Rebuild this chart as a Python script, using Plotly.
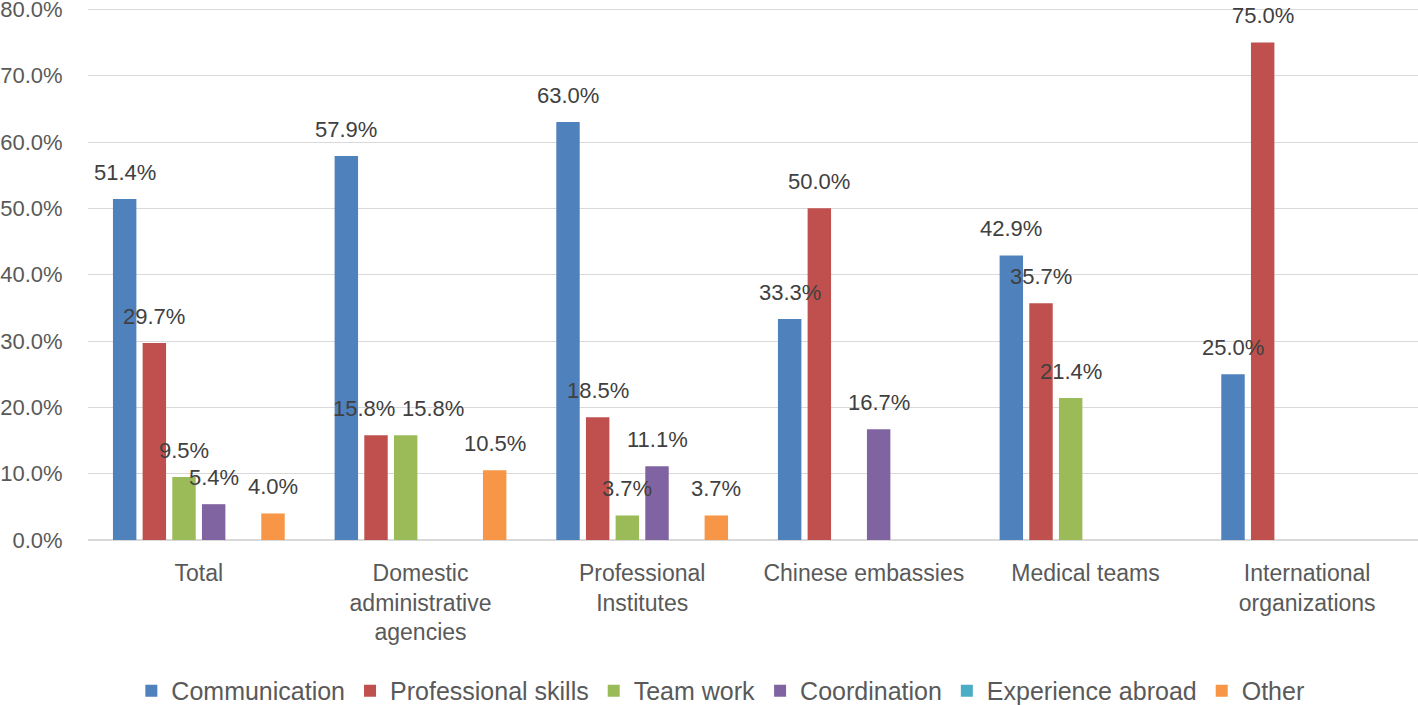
import plotly.graph_objects as go

categories = ["Total", "Domestic<br>administrative<br>agencies", "Professional<br>Institutes",
              "Chinese embassies", "Medical teams", "International<br>organizations"]
series_names = ["Communication", "Professional skills", "Team work", "Coordination",
                "Experience abroad", "Other"]
communication = [51.4, 57.9, 63.0, 33.3, 42.9, 25.0]
professional_skills = [29.7, 15.8, 18.5, 50.0, 35.7, 75.0]
team_work = [9.5, 15.8, 3.7, 0.0, 21.4, 0.0]
coordination = [5.4, 0.0, 11.1, 16.7, 0.0, 0.0]
experience_abroad = [0.0, 0.0, 0.0, 0.0, 0.0, 0.0]
other = [4.0, 10.5, 3.7, 0.0, 0.0, 0.0]
colors = ["#4F81BD", "#C0504D", "#9BBB59", "#8064A2", "#4BACC6", "#F79646"]
y_ticks = [0, 10, 20, 30, 40, 50, 60, 70, 80]

all_series = [communication, professional_skills, team_work, coordination, experience_abroad, other]

# label nudges (series index, category index) -> horizontal pixel shift, as in the original
label_nudge = {(1, 1): -12, (2, 1): 27}

FONT = "Liberation Sans"
bargap = 0.197
bargroupgap = 0.21
n = len(all_series)
slot = (1 - bargap) / n

fig = go.Figure()
annotations = []
for j, (name, vals, col) in enumerate(zip(series_names, all_series, colors)):
    fig.add_trace(go.Bar(x=list(range(len(categories))), y=[v / 100 for v in vals], name=name,
                         marker=dict(color=col, line=dict(width=0))))
    for i, v in enumerate(vals):
        if v > 0:
            annotations.append(dict(x=i + (j - (n - 1) / 2) * slot, y=v / 100, xref="x", yref="y",
                                    text=f"{v:.1f}%", showarrow=False, yanchor="bottom",
                                    yshift=12, xshift=label_nudge.get((j, i), 0),
                                    font=dict(family=FONT, size=22, color="#404040")))

fig.update_layout(
    width=1418, height=705,
    margin=dict(l=88, r=0, t=8, b=165, autoexpand=False),
    paper_bgcolor="white", plot_bgcolor="white",
    barmode="group", bargap=bargap, bargroupgap=bargroupgap,
    font=dict(family=FONT, size=23, color="#595959"),
    showlegend=True,
    legend=dict(orientation="h", xref="container", yref="container", x=0.508, xanchor="center",
                y=0.02, yanchor="middle",
                font=dict(family=FONT, size=25, color="#595959"), itemwidth=30,
                traceorder="normal", itemsizing="constant"),
    annotations=annotations,
)
fig.update_xaxes(tickmode="array", tickvals=list(range(len(categories))), ticktext=categories,
                 range=[-0.5, len(categories) - 0.5], showgrid=False, showline=True,
                 linecolor="#D9D9D9", linewidth=1, ticks="outside", ticklen=12,
                 tickcolor="rgba(0,0,0,0)", automargin=False,
                 tickfont=dict(family=FONT, size=23, color="#595959"))
fig.update_yaxes(range=[0, 0.802], tickvals=[t / 100 for t in y_ticks], tickformat=".1%",
                 showgrid=True, gridcolor="#D9D9D9", gridwidth=1, zeroline=True,
                 zerolinecolor="#D9D9D9", showline=False, ticks="outside", ticklen=20,
                 tickcolor="rgba(0,0,0,0)", automargin=False, ticklabeloverflow="allow",
                 tickfont=dict(family=FONT, size=22, color="#595959"))

fig.write_html("out.html", config={"displayModeBar": False},
               post_script="document.body.style.margin='0px';")
